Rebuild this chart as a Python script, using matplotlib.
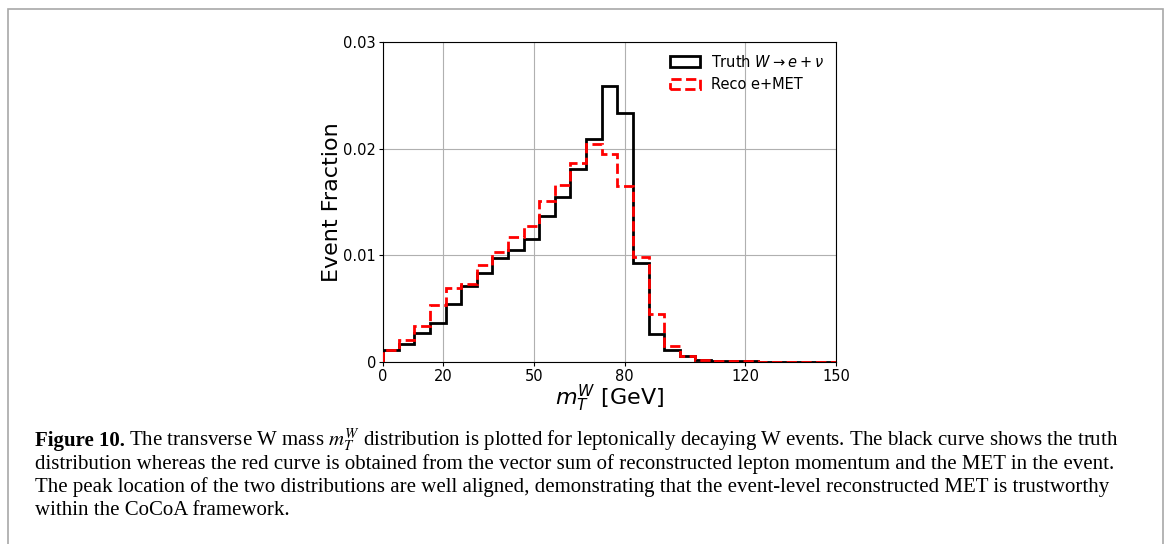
from matplotlib import pyplot as plt
from matplotlib.patches import Rectangle
import numpy as np

# histogram contents (29 bins from 0 to 150 GeV)
edges = np.linspace(0, 150, 30)
truth = [0.00115, 0.00168, 0.00271, 0.00365, 0.00546, 0.00708, 0.00836, 0.00979,
         0.01048, 0.01157, 0.01366, 0.01544, 0.01812, 0.02095, 0.02585, 0.02335,
         0.00926, 0.00265, 0.00109, 0.00053, 0.00016, 0.00010, 0.00008, 0.00005,
         0.00004, 0.00003, 0.00002, 0.00002, 0.00001]
reco = [0.00109, 0.00203, 0.00340, 0.00536, 0.00689, 0.00733, 0.00910, 0.01029,
        0.01172, 0.01275, 0.01506, 0.01656, 0.01862, 0.02042, 0.01949, 0.01650,
        0.00982, 0.00449, 0.00147, 0.00059, 0.00022, 0.00012, 0.00009, 0.00006,
        0.00004, 0.00003, 0.00002, 0.00002, 0.00001]
xticks = [0, 20, 50, 80, 120, 150]
yticks = [0, 0.01, 0.02, 0.03]
ylabels = ['0', '0.01', '0.02', '0.03']

caption = [
    "The transverse W mass $m_T^W$ distribution is plotted for leptonically decaying W events. The black curve shows the truth",
    "distribution whereas the red curve is obtained from the vector sum of reconstructed lepton momentum and the MET in the event.",
    "The peak location of the two distributions are well aligned, demonstrating that the event-level reconstructed MET is trustworthy",
    "within the CoCoA framework.",
]

plt.rcParams['mathtext.fontset'] = 'dejavusans'
fig = plt.figure(figsize=(11.7, 5.44), dpi=100)
ax = fig.add_axes([0.3274, 0.3346, 0.3871, 0.5882])

centers = 0.5*(edges[1:] + edges[:-1])
ax.hist(centers, bins=edges, weights=truth, histtype='step', color='black', lw=2,
        label=r'Truth $W \rightarrow e + \nu$', zorder=3)
ax.hist(centers, bins=edges, weights=reco, histtype='step', color='red', lw=2,
        ls='--', label='Reco e+MET', zorder=4)

ax.set_xlim(0, 150)
ax.set_ylim(0, 0.03)
ax.set_xticks(xticks)
ax.set_yticks(yticks)
ax.set_yticklabels(ylabels)
ax.tick_params(labelsize=10.5, length=3, pad=2)
ax.grid(True, color='#b0b0b0', lw=0.8)
ax.set_axisbelow(True)
ax.set_xlabel(r'$m_T^W$ [GeV]', fontsize=16, labelpad=-1)
ax.set_ylabel('Event Fraction', fontsize=16, labelpad=1)
ax.legend(loc='upper right', frameon=False, fontsize=10.5, handlelength=2.0,
          borderaxespad=0.4)

# outer frame around the figure panel
fig.patches.append(Rectangle((8/1170, -0.05), 1155/1170, 1 - 9/544 + 0.05,
                             transform=fig.transFigure, fill=False,
                             edgecolor='#a8a8a8', lw=1.2))

# caption
plt.rcParams['mathtext.fontset'] = 'stix'
serif = ['Liberation Serif', 'DejaVu Serif']
fs = 15
x0 = 35/1170
ys = [446, 469, 492, 515]
fig.canvas.draw()
r = fig.canvas.get_renderer()
t = fig.text(x0, 1 - ys[0]/544, 'Figure 10.', family=serif, weight='bold',
             fontsize=fs, va='baseline')
w = t.get_window_extent(r).width
fig.text(x0 + (w + 4)/1170, 1 - ys[0]/544, caption[0], family=serif,
         fontsize=fs, va='baseline')
for line, yy in zip(caption[1:], ys[1:]):
    fig.text(x0, 1 - yy/544, line, family=serif, fontsize=fs, va='baseline')

fig.savefig('out.png', dpi=100)
